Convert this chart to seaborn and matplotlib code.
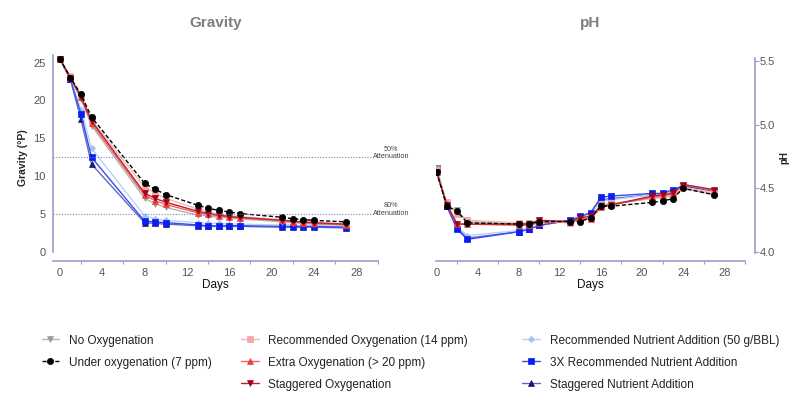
import numpy as np
import pandas as pd
import matplotlib
matplotlib.use("Agg")
import matplotlib.pyplot as plt
from matplotlib.ticker import MultipleLocator
import seaborn as sns

sns.set_style("white")
plt.rcParams['font.family'] = ['Liberation Sans', 'DejaVu Sans']

# sampling days
days = [0, 1, 2, 3, 8, 9, 10, 13, 14, 15, 16, 17, 21, 22, 23, 24, 27]

# gravity (°P)
grav_no_oxy = [25.5, 22.9, 20.2, 16.7, 7.1, 6.4, 5.9, 4.9, 4.8, 4.6, 4.5, 4.4, 4.0, 3.9, 3.8, 3.7, 3.6]
grav_under_oxy = [25.5, 23.0, 20.8, 17.8, 9.1, 8.3, 7.6, 6.2, 5.8, 5.5, 5.3, 5.1, 4.6, 4.4, 4.3, 4.2, 4.0]
grav_rec_oxy = [25.5, 23.2, 20.6, 17.4, 8.6, 7.8, 7.1, 5.7, 5.3, 5.0, 4.8, 4.7, 4.3, 4.1, 4.0, 3.9, 3.7]
grav_extra_oxy = [25.5, 23.0, 20.4, 17.0, 7.5, 6.8, 6.3, 5.2, 5.0, 4.8, 4.6, 4.5, 4.2, 4.0, 3.9, 3.8, 3.6]
grav_stag_oxy = [25.5, 23.0, 20.5, 17.3, 7.8, 7.1, 6.6, 5.4, 5.1, 4.9, 4.7, 4.6, 4.2, 4.1, 4.0, 3.9, 3.7]
grav_rec_nut = [25.5, 22.8, 18.8, 13.7, 4.8, 4.4, 4.2, 3.9, 3.8, 3.8, 3.7, 3.7, 3.6, 3.6, 3.5, 3.5, 3.4]
grav_3x_nut = [25.5, 22.8, 18.2, 12.5, 4.1, 4.0, 3.9, 3.6, 3.5, 3.5, 3.5, 3.5, 3.4, 3.4, 3.4, 3.4, 3.3]
grav_stag_nut = [25.5, 22.8, 17.5, 11.6, 3.9, 3.8, 3.7, 3.5, 3.4, 3.4, 3.4, 3.4, 3.3, 3.3, 3.3, 3.3, 3.2]

# pH
ph_no_oxy = [4.66, 4.36, 4.33, 4.24, 4.22, 4.23, 4.24, 4.23, 4.25, 4.27, 4.37, 4.38, 4.42, 4.43, 4.44, 4.50, 4.45]
ph_under_oxy = [4.63, 4.36, 4.32, 4.23, 4.22, 4.22, 4.24, 4.24, 4.24, 4.27, 4.36, 4.36, 4.39, 4.40, 4.42, 4.50, 4.45]
ph_rec_oxy = [4.64, 4.39, 4.30, 4.25, 4.23, 4.23, 4.25, 4.23, 4.26, 4.27, 4.36, 4.38, 4.42, 4.44, 4.45, 4.51, 4.46]
ph_extra_oxy = [4.63, 4.38, 4.22, 4.22, 4.21, 4.21, 4.23, 4.24, 4.26, 4.26, 4.35, 4.37, 4.43, 4.44, 4.46, 4.53, 4.48]
ph_stag_oxy = [4.63, 4.37, 4.22, 4.22, 4.22, 4.22, 4.25, 4.24, 4.27, 4.28, 4.36, 4.37, 4.44, 4.45, 4.46, 4.53, 4.49]
ph_rec_nut = [4.66, 4.37, 4.20, 4.13, 4.17, 4.19, 4.21, 4.25, 4.27, 4.30, 4.40, 4.41, 4.45, 4.46, 4.46, 4.51, 4.47]
ph_3x_nut = [4.66, 4.36, 4.18, 4.10, 4.16, 4.18, 4.21, 4.25, 4.28, 4.31, 4.43, 4.44, 4.46, 4.46, 4.49, 4.52, 4.48]
ph_stag_nut = [4.65, 4.36, 4.19, 4.11, 4.16, 4.18, 4.21, 4.25, 4.27, 4.30, 4.41, 4.42, 4.45, 4.45, 4.47, 4.52, 4.47]

labels = ["No Oxygenation", "Under oxygenation (7 ppm)",
          "Recommended Oxygenation (14 ppm)", "Extra Oxygenation (> 20 ppm)", "Staggered Oxygenation",
          "Recommended Nutrient Addition (50 g/BBL)", "3X Recommended Nutrient Addition", "Staggered Nutrient Addition"]
gravity = [grav_no_oxy, grav_under_oxy, grav_rec_oxy, grav_extra_oxy, grav_stag_oxy,
           grav_rec_nut, grav_3x_nut, grav_stag_nut]
ph = [ph_no_oxy, ph_under_oxy, ph_rec_oxy, ph_extra_oxy, ph_stag_oxy,
      ph_rec_nut, ph_3x_nut, ph_stag_nut]

colors = ["#9a9a9a", "#000000", "#f5a3a3", "#f23c3c", "#a8001a", "#9ec6f2", "#0a1ef0", "#16167a"]
line_colors = ["#b5b5b5", "#000000", "#f7b8b8", "#f36060", "#b3262f", "#b5d5f7", "#3a4cf2", "#6666bb"]
markers = ["v", "o", "s", "^", "v", "D", "s", "^"]
msizes = [4.5, 4.5, 4.5, 4.5, 4.5, 3.2, 4.5, 4.5]
styles = ["-", (0, (3, 1.6)), "-", "-", "-", "-", "-", "-"]
# drawing order (3X nutrient and under oxygenation end up on top)
order = [7, 5, 6, 0, 2, 3, 4, 1]

spine_col = "#9c9cc8"
tick_col = "#555555"

fig = plt.figure(figsize=(8, 4.04), dpi=100)
ax1 = fig.add_axes([0.066, 0.355, 0.406, 0.509])
ax2 = fig.add_axes([0.545, 0.355, 0.386, 0.509])

handles = [None] * len(labels)
for i in order:
    df = pd.DataFrame({"Days": days, "Gravity": gravity[i], "pH": ph[i]})
    sns.lineplot(data=df, x="Days", y="Gravity", ax=ax1, color=line_colors[i], linewidth=1,
                 linestyle=styles[i], marker=markers[i], markersize=msizes[i],
                 markerfacecolor=colors[i], markeredgecolor=colors[i], markeredgewidth=0.5,
                 label=labels[i], legend=False)
    handles[i] = ax1.lines[-1]
    sns.lineplot(data=df, x="Days", y="pH", ax=ax2, color=line_colors[i], linewidth=1,
                 linestyle=styles[i], marker=markers[i], markersize=msizes[i],
                 markerfacecolor=colors[i], markeredgecolor=colors[i], markeredgewidth=0.5,
                 legend=False)

# attenuation lines
for yv, txt in [(12.6, "50%\nAttenuation"), (5.1, "80%\nAttenuation")]:
    ax1.axhline(yv, xmin=0, xmax=0.985, color="#8080c0", linestyle=(0, (1, 1.5)), linewidth=0.8)
    ax1.text(31.3, yv + 0.5, txt, fontsize=5.2, color="#444444", ha="center", va="center",
             linespacing=1.1, clip_on=False)

# left axis
ax1.set_xlim(-0.66, 30)
ax1.set_ylim(-1.1, 26)
ax1.set_yticks([0, 5, 10, 15, 20, 25])
ax1.set_xticks([0, 4, 8, 12, 16, 20, 24, 28])
ax1.xaxis.set_minor_locator(MultipleLocator(2))
for s in ["top", "right"]:
    ax1.spines[s].set_visible(False)
ax1.spines["left"].set_bounds(0, 26)
ax1.set_ylabel("Gravity (°P)", fontsize=7.5, fontweight="bold", labelpad=4)
ax1.set_title("Gravity", fontsize=11, fontweight="bold", color="#7f7f7f", pad=20)

# right axis
ax2.set_xlim(-0.05, 30)
ax2.set_ylim(3.934, 5.545)
ax2.set_yticks([4.0, 4.5, 5.0, 5.5])
ax2.set_yticklabels(["4.0", "4.5", "5.0", "5.5"])
ax2.set_xticks([0, 4, 8, 12, 16, 20, 24, 28])
ax2.xaxis.set_minor_locator(MultipleLocator(2))
for s in ["top", "left"]:
    ax2.spines[s].set_visible(False)
ax2.spines["right"].set_bounds(3.99, 5.52)
ax2.spines["right"].set_position(("outward", 7))
ax2.yaxis.tick_right()
ax2.yaxis.set_label_position("right")
ax2.set_ylabel("pH", fontsize=7, fontweight="bold", labelpad=3)
ax2.set_title("pH", fontsize=11, fontweight="bold", color="#7f7f7f", pad=20)

for ax in [ax1, ax2]:
    for s in ax.spines.values():
        s.set_color(spine_col)
        s.set_linewidth(1.2)
    ax.tick_params(axis="both", which="major", colors=spine_col, labelcolor=tick_col,
                   labelsize=8, length=3, width=0.8, pad=2, direction="out")
    ax.tick_params(axis="x", which="minor", colors=spine_col, length=2, width=0.8, bottom=True)
    ax.set_xlabel("Days", fontsize=8.5, labelpad=1, color="#111111")
    ax.grid(False)
ax2.tick_params(axis="y", pad=1)

# legends, one per column
cols = [(0, 2, 0.052), (2, 5, 0.301), (5, 8, 0.653)]
for a, b, xpos in cols:
    leg = fig.legend(handles[a:b], labels[a:b], loc="upper left", bbox_to_anchor=(xpos, 0.172),
                     frameon=False, fontsize=8.5, handlelength=1.5, handletextpad=0.8,
                     labelspacing=0.85, borderpad=0, borderaxespad=0)
    for t in leg.get_texts():
        t.set_color("#222222")

fig.savefig("out.png", dpi=100)
